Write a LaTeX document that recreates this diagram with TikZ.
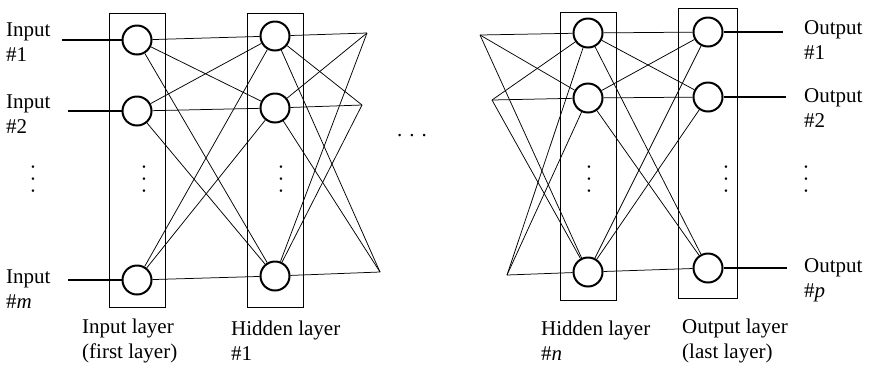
\documentclass[tikz,border=0pt]{standalone}
\usepackage{fontspec}
\setmainfont{Liberation Serif}

\begin{document}
\begin{tikzpicture}[x=1pt, y=-1pt,
        every node/.style={font=\fontsize{21}{25}\selectfont},
        neuron/.style={draw, circle, line width=2pt, minimum size=29pt, inner sep=0pt, fill=white},
        layerbox/.style={draw, line width=0.9pt, minimum width=56pt, inner sep=0pt},
        tag/.style={anchor=west, align=left, inner sep=0pt},
        dots/.style={inner sep=0pt, rotate=-90},
        link/.style={line width=0.75pt},
        feed/.style={line width=1.8pt}]
      \useasboundingbox (0,0) rectangle (877,368);
      % layer boxes
      \node[layerbox, minimum height=294pt] (Lin) at (137,160) {};
      \node[layerbox, minimum height=294pt] (Lh1) at (275,160) {};
      \node[layerbox, minimum height=288pt] (Lhn) at (588,156) {};
      \node[layerbox, minimum width=59pt, minimum height=290pt] (Lout) at (708,153) {};
      % neurons
      \node[neuron] (in1) at (137,40) {};
      \node[neuron] (in2) at (137,111) {};
      \node[neuron] (inm) at (137,280) {};
      \node[neuron] (ha1) at (275,36) {};
      \node[neuron] (ha2) at (275,108) {};
      \node[neuron] (ha3) at (275,276) {};
      \node[neuron] (hn1) at (588,33) {};
      \node[neuron] (hn2) at (588,98) {};
      \node[neuron] (hn3) at (588,272) {};
      \node[neuron] (out1) at (708,32) {};
      \node[neuron] (out2) at (708,97) {};
      \node[neuron] (outp) at (708,268) {};
      % free ends beside the gap
      \coordinate (r1) at (367,33);
      \coordinate (r2) at (362,105);
      \coordinate (r3) at (380,272);
      \coordinate (l1) at (480,35);
      \coordinate (l2) at (492,100);
      \coordinate (l3) at (507,275);
      % connections
      \foreach \a in {in1,in2,inm}
        \foreach \b in {ha1,ha2,ha3}
          \draw[link] (\a) -- (\b);
      \foreach \b in {ha1,ha2,ha3}
        \foreach \c in {r1,r2,r3}
          \draw[link] (\b) -- (\c);
      \foreach \c in {l1,l2,l3}
        \foreach \b in {hn1,hn2,hn3}
          \draw[link] (\c) -- (\b);
      \foreach \b in {hn1,hn2,hn3}
        \foreach \d in {out1,out2,outp}
          \draw[link] (\b) -- (\d);
      % inputs and outputs
      \coordinate (x1) at (62,40);
      \coordinate (x2) at (68,111);
      \coordinate (xm) at (68,280);
      \coordinate (y1) at (783,32);
      \coordinate (y2) at (786,97);
      \coordinate (yp) at (787,268);
      \draw[feed] (x1) -- (in1);
      \draw[feed] (x2) -- (in2);
      \draw[feed] (xm) -- (inm);
      \draw[feed] (out1) -- (y1);
      \draw[feed] (out2) -- (y2);
      \draw[feed] (outp) -- (yp);
      % texts
      \node[tag] (tin1) at (6,42) {Input\\\#1};
      \node[tag] (tin2) at (6,114) {Input\\\#2};
      \node[tag] (tinm) at (6,289) {Input\\\#\textit{m}};
      \node[tag] (tout1) at (804,40) {Output\\\#1};
      \node[tag] (tout2) at (804,108) {Output\\\#2};
      \node[tag] (toutp) at (804,280) {Output\\\#\textit{p}};
      \node[dots] (vd1) at (33,179) {.\,\,.\,\,.};
      \node[dots] (vd2) at (144,179) {.\,\,.\,\,.};
      \node[dots] (vd3) at (281,179) {.\,\,.\,\,.};
      \node[dots] (vd4) at (589,179) {.\,\,.\,\,.};
      \node[dots] (vd5) at (726,179) {.\,\,.\,\,.};
      \node[dots] (vd6) at (806,179) {.\,\,.\,\,.};
      \node (gap) at (412,136) {.\,\,.\,\,.};
      \node[tag] (tLin) at (82,341) {Input layer\\(first layer)};
      \node[tag] (tLh1) at (231,341) {Hidden layer\\\#1};
      \node[tag] (tLhn) at (541,341) {Hidden layer\\\#\textit{n}};
      \node[tag] (tLout) at (682,341) {Output layer\\(last layer)};
\end{tikzpicture}
\end{document}
